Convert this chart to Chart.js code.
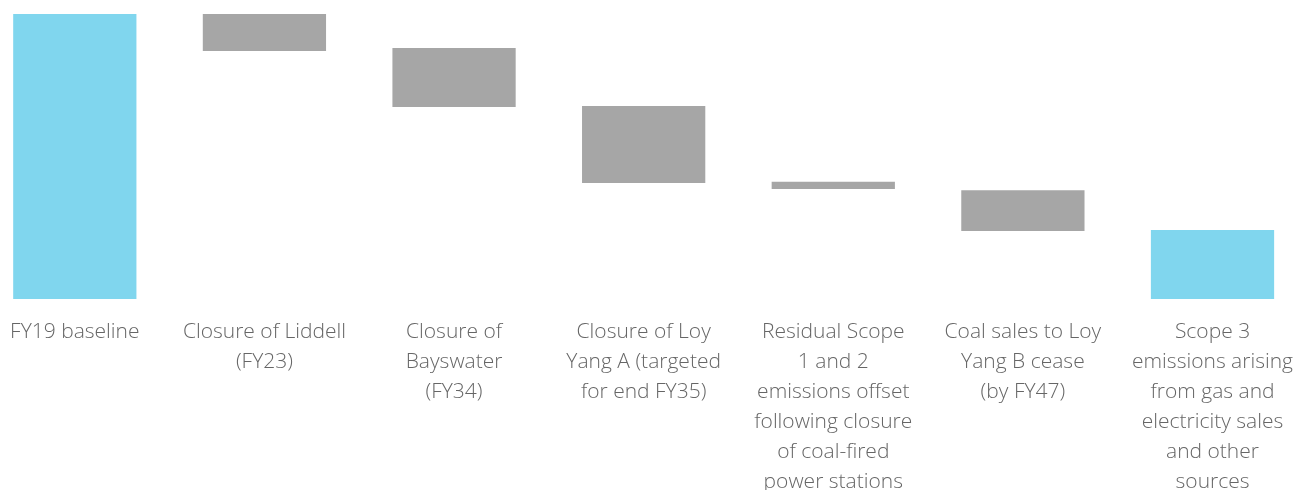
<!DOCTYPE html>
<html>
<head>
<meta charset="utf-8">
<script src="https://cdn.jsdelivr.net/npm/chart.js@4"></script>
<style>
  html, body { margin: 0; padding: 0; background: #fff; overflow: hidden; width: 1295px; height: 490px; }
  #wrap { position: absolute; left: -20px; top: 0; width: 1331px; height: 515px; }
</style>
</head>
<body>
<div id="wrap"><canvas id="myChart"></canvas></div>
<script>
// Waterfall: each step is a floating bar [low, high]
const categories = [
    ['FY19 baseline'],
    ['Closure of Liddell', '(FY23)'],
    ['Closure of', 'Bayswater', '(FY34)'],
    ['Closure of Loy', 'Yang A (targeted', 'for end FY35)'],
    ['Residual Scope', '1 and 2', 'emissions offset', 'following closure', 'of coal-fired', 'power stations'],
    ['Coal sales to Loy', 'Yang B cease', '(by FY47)'],
    ['Scope 3', 'emissions arising', 'from gas and', 'electricity sales', 'and other', 'sources']
];
const lows  = [0, 87.0, 67.4, 40.7, 38.6, 23.9, 0];
const highs = [100, 100, 88.1, 67.7, 41.1, 38.2, 24.2];
const barColors = ['#80d6ee', '#a6a6a6', '#a6a6a6', '#a6a6a6', '#a6a6a6', '#a6a6a6', '#80d6ee'];

const steps = lows.map((lo, i) => [lo, highs[i]]);

const ctx = document.getElementById('myChart');
new Chart(ctx, {
    type: 'bar',
    data: {
        labels: categories,
        datasets: [{
            data: steps,
            backgroundColor: barColors,
            borderWidth: 0,
            categoryPercentage: 1,
            barPercentage: 0.65
        }]
    },
    options: {
        responsive: true,
        maintainAspectRatio: false,
        animation: false,
        layout: { padding: { top: 14, left: 0, right: 0, bottom: 0 } },
        scales: {
            x: {
                grid: { display: false, drawTicks: false },
                border: { display: false },
                ticks: {
                    autoSkip: false,
                    maxRotation: 0,
                    minRotation: 0,
                    padding: 18,
                    color: '#666666',
                    font: { family: 'Open Sans', size: 21, weight: 300, lineHeight: 30 / 21 }
                }
            },
            y: {
                display: false,
                min: 0,
                max: 100
            }
        },
        plugins: {
            legend: { display: false },
            tooltip: { enabled: false }
        }
    }
});
</script>
</body>
</html>
